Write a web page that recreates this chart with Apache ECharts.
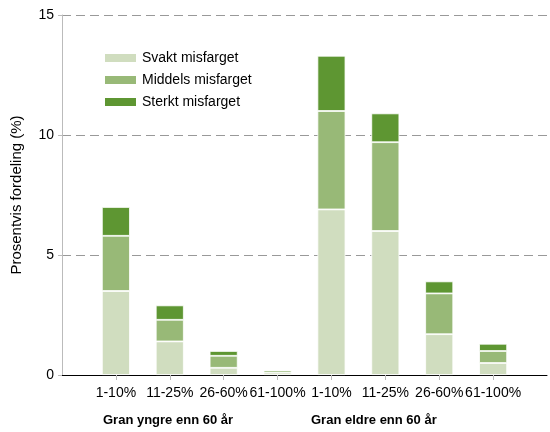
<!DOCTYPE html>
<html>
<head>
<meta charset="utf-8">
<script src="https://cdn.jsdelivr.net/npm/echarts@6/dist/echarts.min.js"></script>
<style>
  html, body { margin: 0; padding: 0; background: #fff; }
  #chart { width: 550px; height: 432px; }
</style>
</head>
<body>
<div id="chart"></div>
<script>
// kategorier (tomme plasser i hver ende)
var categories = ['', '1-10%', '11-25%', '26-60%', '61-100%', '1-10%', '11-25%', '26-60%', '61-100%', ''];
var svakt   = ['-', 3.5, 1.4, 0.3, 0.1, 6.9, 6.0, 1.7, 0.5, '-'];
var middels = ['-', 2.3, 0.9, 0.5, 0.1, 4.1, 3.7, 1.7, 0.5, '-'];
var sterkt  = ['-', 1.2, 0.6, 0.2, 0,   2.3, 1.2, 0.5, 0.3, '-'];
var yTicks = [0, 5, 10, 15];
var groupLabels = ['Gran yngre enn 60 år', 'Gran eldre enn 60 år'];

var font = 'Liberation Sans, Arial, sans-serif';
var chart = echarts.init(document.getElementById('chart'));

function serie(name, data, color) {
    return {
        name: name,
        type: 'bar',
        stack: 'total',
        barWidth: 28,
        data: data,
        itemStyle: { color: color, borderColor: '#fff', borderWidth: 0.8 }
    };
}

var option = {
    animation: false,
    textStyle: { fontFamily: font },
    grid: { left: 62, right: 0, top: 15, bottom: 57 },
    legend: {
        orient: 'vertical',
        left: 98,
        top: 46,
        icon: 'rect',
        itemWidth: 33,
        itemHeight: 10,
        itemGap: 8,
        textStyle: { fontSize: 14, color: '#000', fontFamily: font },
        data: ['Svakt misfarget', 'Middels misfarget', 'Sterkt misfarget']
    },
    xAxis: {
        type: 'category',
        boundaryGap: false,
        data: categories,
        axisLine: { lineStyle: { color: '#000', width: 1 } },
        axisTick: {
            length: 5,
            lineStyle: { color: '#bbb' },
            interval: function (i) { return i > 0 && i < categories.length - 1; }
        },
        axisLabel: { interval: 0, fontSize: 14, color: '#000', margin: 11 }
    },
    yAxis: {
        type: 'value',
        min: yTicks[0],
        max: yTicks[yTicks.length - 1],
        interval: 5,
        name: 'Prosentvis fordeling (%)',
        nameLocation: 'middle',
        nameGap: 38,
        nameTextStyle: { fontSize: 15, color: '#000', fontFamily: font },
        axisLine: { show: true, lineStyle: { color: '#bbb' } },
        axisTick: { show: true, length: 4, lineStyle: { color: '#bbb' } },
        axisLabel: { fontSize: 14, color: '#000', margin: 8 },
        splitLine: { lineStyle: { color: '#999', type: [9, 5], width: 1 } }
    },
    graphic: [
        { type: 'text', left: 103, top: 414, style: { text: groupLabels[0], font: 'bold 13px ' + font, fill: '#000' } },
        { type: 'text', left: 311, top: 414, style: { text: groupLabels[1], font: 'bold 13px ' + font, fill: '#000' } }
    ],
    series: [
        serie('Svakt misfarget', svakt, '#d0ddbf'),
        serie('Middels misfarget', middels, '#98b977'),
        serie('Sterkt misfarget', sterkt, '#5e9632')
    ]
};
chart.setOption(option);
</script>
</body>
</html>
